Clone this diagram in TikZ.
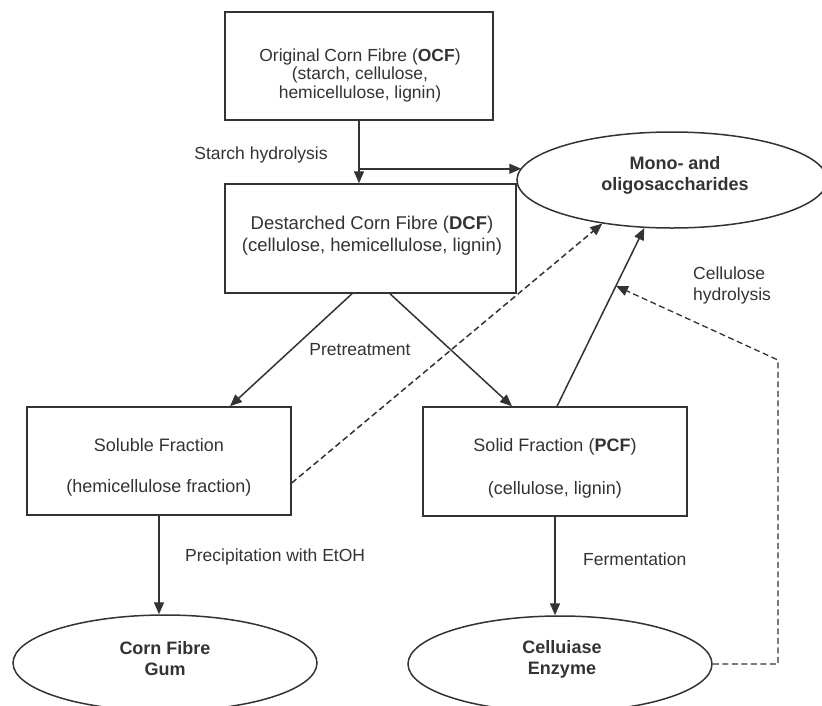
\documentclass[tikz,border=0pt]{standalone}
\usepackage{fontspec}
\setmainfont{Liberation Sans}
\usetikzlibrary{arrows.meta,calc,shapes.geometric}
\definecolor{ink}{HTML}{333333}
\begin{document}
\begin{tikzpicture}[x=1pt,y=-1pt,
  every node/.style={text=ink},
  boxnode/.style={draw=ink,line width=1.5pt,rectangle,inner sep=0pt},
  ellnode/.style={draw=ink,line width=1.5pt,ellipse,inner sep=0pt},
  txt/.style={inner sep=0pt,align=center,font=\fontsize{18}{21}\selectfont},
  lbl/.style={inner sep=0pt,align=left,font=\fontsize{17.5}{21}\selectfont},
  arr/.style={draw=ink,line width=1.5pt,-{Triangle[length=12pt,width=10pt]}},
  dsh/.style={dash pattern=on 6pt off 3.5pt}
]
\useasboundingbox (0,0) rectangle (822,705);
% boxes
\node[boxnode,minimum width=268pt,minimum height=108pt] (ocfbox) at (359,66) {};
\node[boxnode,minimum width=291pt,minimum height=109pt] (dcfbox) at (370.5,238.5) {};
\node[boxnode,minimum width=264pt,minimum height=108pt] (solbox) at (159,461) {};
\node[boxnode,minimum width=264pt,minimum height=109pt] (pcfbox) at (555,461.5) {};
% ellipses
\node[ellnode,minimum width=310pt,minimum height=96pt] (mono) at (672,180) {};
\node[ellnode,minimum width=304pt,minimum height=96pt] (gum) at (165,663) {};
\node[ellnode,minimum width=304pt,minimum height=96pt] (cel) at (560,664) {};
% texts
\node[txt,font=\fontsize{17.5}{18.5}\selectfont] (ocft) at (360,75) {Original Corn Fibre (\textbf{OCF})\\(starch, cellulose,\\hemicellulose, lignin)};
\node[txt,font=\fontsize{18.5}{22}\selectfont] (dcft) at (372,236) {Destarched Corn Fibre (\textbf{DCF})\\(cellulose, hemicellulose, lignin)};
\node[txt] (solt) at (159,467.5) {Soluble Fraction\\[20pt](hemicellulose fraction)};
\node[txt] (pcft) at (555,468.5) {Solid Fraction (\textbf{PCF})\\[22pt](cellulose, lignin)};
\node[txt,font=\bfseries\fontsize{18}{21}\selectfont] (monot) at (675,175.5) {Mono- and\\oligosaccharides};
\node[txt,font=\bfseries\fontsize{18}{21}\selectfont] (gumt) at (165,658.5) {Corn Fibre\\Gum};
\node[txt,font=\bfseries\fontsize{18}{21}\selectfont] (celt) at (562,659.5) {Celluiase\\Enzyme};
% labels
\node[lbl] (l1) at (261,155) {Starch hydrolysis};
\node[lbl] (l2) at (360,350) {Pretreatment};
\node[lbl,anchor=west] (l3) at (693,285) {Cellulose\\hydrolysis};
\node[lbl,anchor=west] (l4) at (185,557) {Precipitation with EtOH};
\node[lbl,anchor=west] (l5) at (583,559) {Fermentation};
% connectors
\coordinate (junc) at ($(ocfbox.south)+(1,48)$);
\draw[arr] (ocfbox.south) -- (ocfbox.south |- dcfbox.north);
\draw[arr] (junc) -- ($(mono.west |- junc)+(5,0)$);
\draw[arr] ($(dcfbox.south)+(-18.5,0)$) -- ($(solbox.north)+(71,0)$);
\draw[arr] ($(dcfbox.south)+(19.5,0)$) -- ($(pcfbox.north)+(-43,0)$);
\draw[arr] (solbox.south) -- (solbox.south |- gum.north);
\draw[arr] (pcfbox.south) -- (pcfbox.south |- cel.north);
\draw[arr,dsh] ($(solbox.east)+(0,22)$) -- (mono.212);
\coordinate (pstart) at ($(pcfbox.north)+(2,0)$);
\draw[arr] (pstart) -- (mono.240);
\coordinate (hit) at ($(pstart)!0.675!(mono.240)$);
\coordinate (corner) at (778,360);
\draw[arr,dsh,line width=1.3pt] (cel.east) -| (corner) -- (hit);
\end{tikzpicture}
\end{document}
